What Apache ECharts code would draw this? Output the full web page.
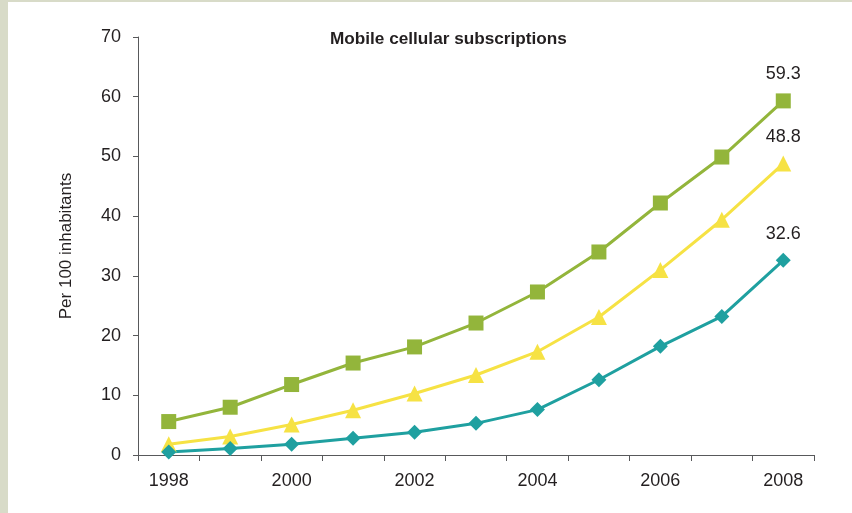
<!DOCTYPE html>
<html>
<head>
<meta charset="utf-8">
<script src="https://cdn.jsdelivr.net/npm/echarts@6/dist/echarts.min.js"></script>
<style>
  html, body { margin: 0; padding: 0; background: #ffffff; }
  #stripL { position: absolute; left: 0; top: 0; width: 8px; height: 513px; background: #d8dbc8; }
  #stripT { position: absolute; left: 0; top: 0; width: 852px; height: 2px; background: #d8dbc8; }
  #chart { position: absolute; left: 0; top: 0; width: 852px; height: 513px; }
</style>
</head>
<body>
<div id="stripL"></div>
<div id="stripT"></div>
<div id="chart"></div>
<script>
const years = ['1998','1999','2000','2001','2002','2003','2004','2005','2006','2007','2008'];
const seriesGreen  = [5.6, 8.0, 11.8, 15.4, 18.1, 22.1, 27.3, 34.0, 42.2, 49.9, 59.3];
const seriesYellow = [1.8, 3.1, 5.1, 7.5, 10.3, 13.4, 17.3, 23.1, 31.0, 39.4, 48.8];
const seriesTeal   = [0.5, 1.1, 1.8, 2.8, 3.8, 5.3, 7.6, 12.6, 18.2, 23.2, 32.6];
const yTicks = { min: 0, max: 70, interval: 10 };
const titleText = 'Mobile cellular subscriptions';
const yName = 'Per 100 inhabitants';

const FONT = "'Liberation Sans Narrow', 'Liberation Sans', Arial, sans-serif";
const TXT = '#231f20';
const AX = '#58595b';

function lastLabel(arr) {
  return arr.map((v, i) => i === arr.length - 1
    ? { value: v, label: { show: true, position: 'top', distance: 10, formatter: String(v), color: TXT, fontFamily: FONT, fontSize: 18 } }
    : v);
}

function mk(name, data, color, symbol, size) {
  return {
    name, type: 'line', data: lastLabel(data),
    symbol, symbolSize: size, showAllSymbol: true,
    lineStyle: { color, width: 3 },
    itemStyle: { color, borderWidth: 0 },
    emphasis: { disabled: true },
    z: 3
  };
}

const chart = echarts.init(document.getElementById('chart'), null, { renderer: 'canvas' });
chart.setOption({
  backgroundColor: 'transparent',
  animation: false,
  title: {
    text: titleText, left: 325, top: 26,
    textStyle: { fontFamily: FONT, fontSize: 17.2, fontWeight: 'bold', color: TXT }
  },
  grid: { left: 138, right: 38, top: 37, bottom: 58, containLabel: false },
  xAxis: {
    type: 'category', data: years, boundaryGap: true,
    axisLine: { show: true, lineStyle: { color: AX, width: 1 } },
    axisTick: { show: true, interval: 0, length: 6, lineStyle: { color: AX } },
    axisLabel: { interval: 1, margin: 17, color: TXT, fontFamily: FONT, fontSize: 18 },
    splitLine: { show: false }
  },
  yAxis: {
    type: 'value', min: yTicks.min, max: yTicks.max, interval: yTicks.interval,
    name: yName, nameLocation: 'middle', nameGap: 63, nameRotate: 90,
    nameTextStyle: { color: TXT, fontFamily: FONT, fontSize: 17 },
    axisLine: { show: true, lineStyle: { color: AX, width: 1 } },
    axisTick: { show: true, length: 5, lineStyle: { color: AX } },
    axisLabel: { margin: 17, color: TXT, fontFamily: FONT, fontSize: 18 },
    splitLine: { show: false }
  },
  series: [
    mk('Green', seriesGreen, '#93b53b', 'rect', 15),
    mk('Yellow', seriesYellow, '#f6e244', 'triangle', 16),
    mk('Teal', seriesTeal, '#1fa0a0', 'diamond', 15)
  ]
});
</script>
</body>
</html>
